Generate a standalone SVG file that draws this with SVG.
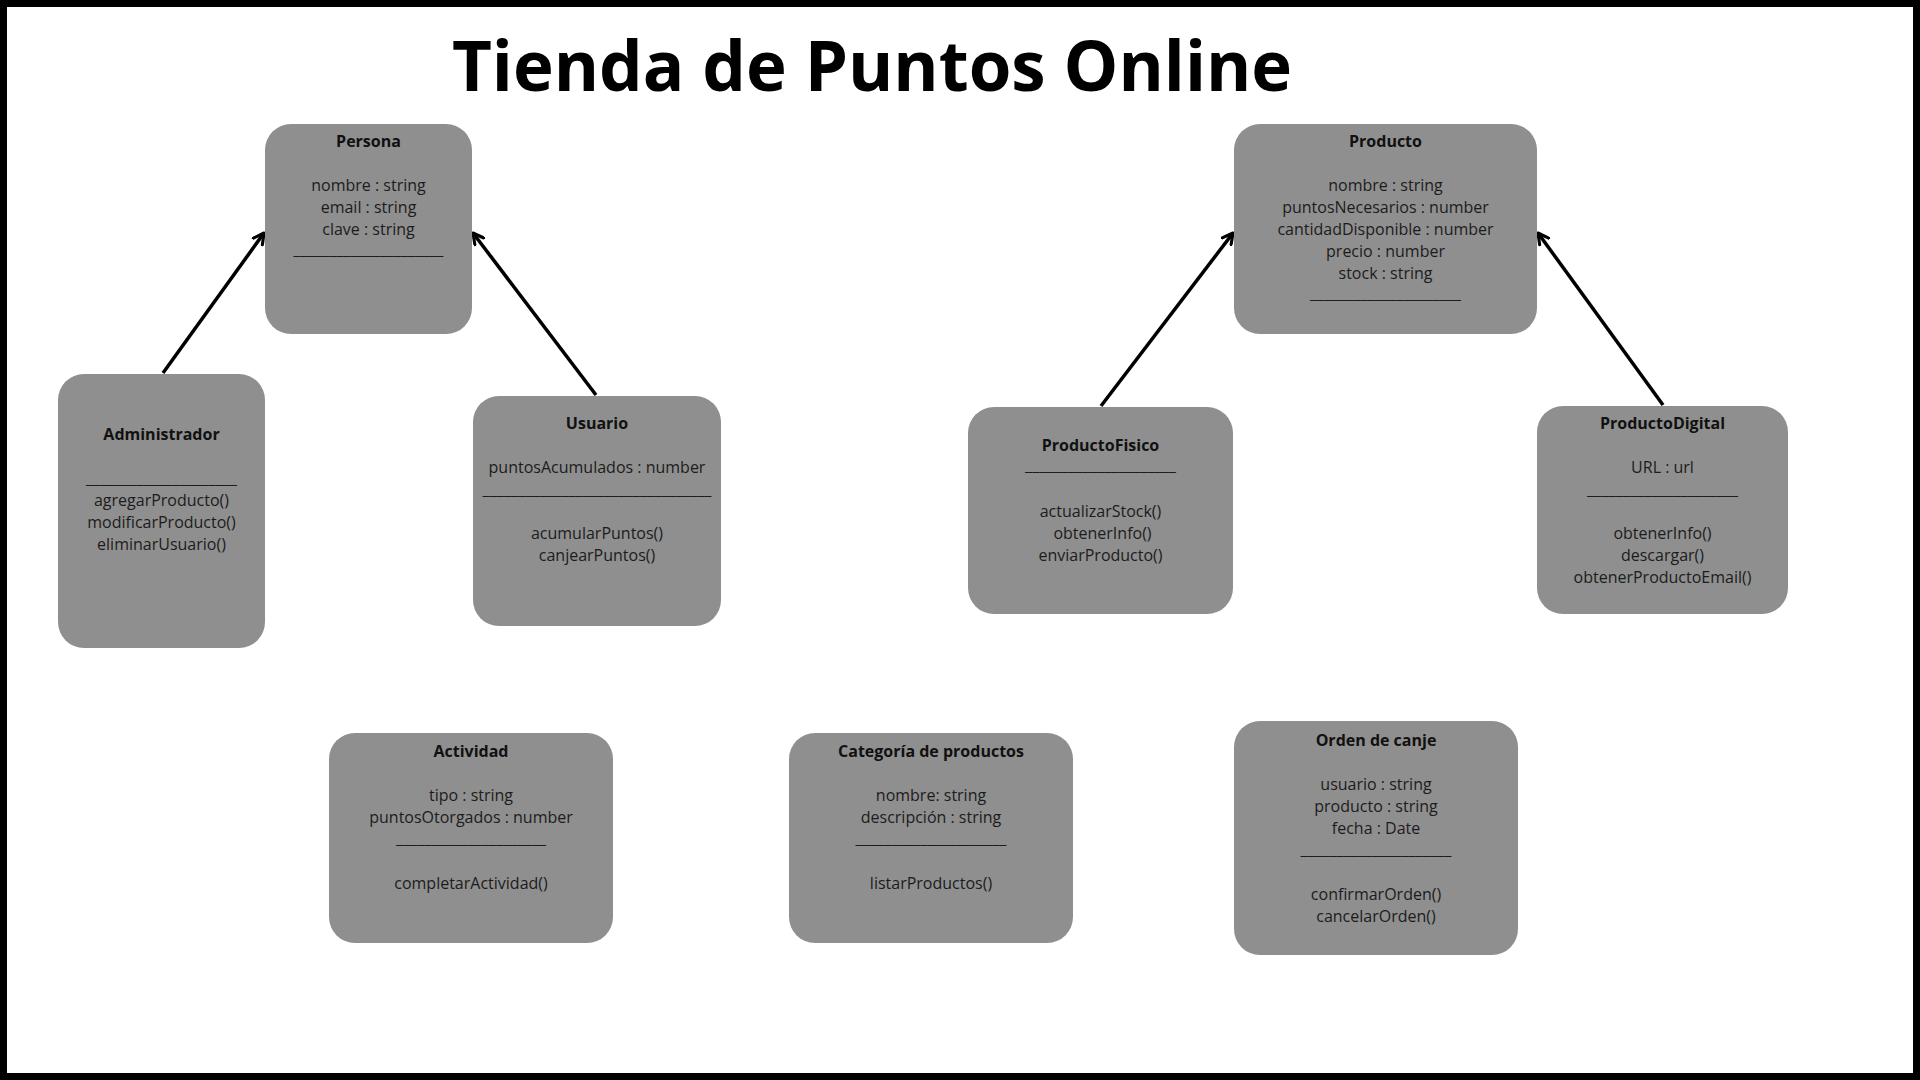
<svg xmlns="http://www.w3.org/2000/svg" width="1920" height="1080" viewBox="0 0 1920 1080">
<style>
.box{fill:#8f8f8f}
.t{font-family:"Open Sans","Liberation Sans",sans-serif;font-size:16px;fill:#1c1c1c;text-anchor:middle}
.h{font-weight:bold;fill:#111}
.title{font-family:"Open Sans","Liberation Sans",sans-serif;font-size:69px;font-weight:bold;fill:#000;text-anchor:middle}
.c{stroke:#000;stroke-width:3.5;fill:none;marker-end:url(#arr)}
</style>
<defs>
<marker id="arr" viewBox="0 0 10 10" refX="8.5" refY="5" markerWidth="4" markerHeight="4" orient="auto" markerUnits="strokeWidth">
<path d="M1,1 L8.5,5 L1,9" fill="none" stroke="#000" stroke-width="2.2" stroke-linecap="round" stroke-linejoin="round"/>
</marker>
</defs>
<rect x="0" y="0" width="1920" height="1080" fill="#fff"/>
<rect x="3.5" y="3.5" width="1913" height="1073" fill="none" stroke="#000" stroke-width="7"/>
<text class="title" x="872" y="91">Tienda de Puntos Online</text>

<g id="connectors">
<line class="c" x1="163" y1="373" x2="264" y2="233"/>
<line class="c" x1="596" y1="395" x2="473" y2="233"/>
<line class="c" x1="1101" y1="406" x2="1233" y2="233"/>
<line class="c" x1="1663" y1="405" x2="1538" y2="233"/>
</g>

<g id="persona">
<rect class="box" x="265" y="124" width="207" height="210" rx="26"/>
<text class="t h" x="368.5" y="147">Persona</text>
<text class="t" x="368.5" y="191">nombre : string</text>
<text class="t" x="368.5" y="213">email : string</text>
<text class="t" x="368.5" y="235">clave : string</text>
<text class="t" x="368.5" y="255" textLength="150" lengthAdjust="spacingAndGlyphs">_____________________</text>
</g>

<g id="administrador">
<rect class="box" x="58" y="374" width="207" height="274" rx="26"/>
<text class="t h" x="161.5" y="440">Administrador</text>
<text class="t" x="161.5" y="484" textLength="151" lengthAdjust="spacingAndGlyphs">_____________________</text>
<text class="t" x="161.5" y="506">agregarProducto()</text>
<text class="t" x="161.5" y="528">modificarProducto()</text>
<text class="t" x="161.5" y="550">eliminarUsuario()</text>
</g>

<g id="usuario">
<rect class="box" x="473" y="396" width="248" height="230" rx="26"/>
<text class="t h" x="597" y="429">Usuario</text>
<text class="t" x="597" y="473">puntosAcumulados : number</text>
<text class="t" x="597" y="495" textLength="229" lengthAdjust="spacingAndGlyphs">________________________________</text>
<text class="t" x="597" y="539">acumularPuntos()</text>
<text class="t" x="597" y="561">canjearPuntos()</text>
</g>

<g id="producto">
<rect class="box" x="1234" y="124" width="303" height="210" rx="26"/>
<text class="t h" x="1385.5" y="147">Producto</text>
<text class="t" x="1385.5" y="191">nombre : string</text>
<text class="t" x="1385.5" y="213">puntosNecesarios : number</text>
<text class="t" x="1385.5" y="235">cantidadDisponible : number</text>
<text class="t" x="1385.5" y="257">precio : number</text>
<text class="t" x="1385.5" y="279">stock : string</text>
<text class="t" x="1385.5" y="299" textLength="151" lengthAdjust="spacingAndGlyphs">_____________________</text>
</g>

<g id="productofisico">
<rect class="box" x="968" y="407" width="265" height="207" rx="26"/>
<text class="t h" x="1100.5" y="451">ProductoFisico</text>
<text class="t" x="1100.5" y="471" textLength="151" lengthAdjust="spacingAndGlyphs">_____________________</text>
<text class="t" x="1100.5" y="517">actualizarStock()</text>
<text class="t" x="1102.5" y="539">obtenerInfo()</text>
<text class="t" x="1100.5" y="561">enviarProducto()</text>
</g>

<g id="productodigital">
<rect class="box" x="1537" y="406" width="251" height="208" rx="26"/>
<text class="t h" x="1662.5" y="429">ProductoDigital</text>
<text class="t" x="1662.5" y="473">URL : url</text>
<text class="t" x="1662.5" y="495" textLength="151" lengthAdjust="spacingAndGlyphs">_____________________</text>
<text class="t" x="1662.5" y="539">obtenerInfo()</text>
<text class="t" x="1662.5" y="561">descargar()</text>
<text class="t" x="1662.5" y="583">obtenerProductoEmail()</text>
</g>

<g id="actividad">
<rect class="box" x="329" y="733" width="284" height="210" rx="26"/>
<text class="t h" x="471" y="757">Actividad</text>
<text class="t" x="471" y="801">tipo : string</text>
<text class="t" x="471" y="823">puntosOtorgados : number</text>
<text class="t" x="471" y="844" textLength="150" lengthAdjust="spacingAndGlyphs">_____________________</text>
<text class="t" x="471" y="889">completarActividad()</text>
</g>

<g id="categoria">
<rect class="box" x="789" y="733" width="284" height="210" rx="26"/>
<text class="t h" x="931" y="757">Categoría de productos</text>
<text class="t" x="931" y="801">nombre: string</text>
<text class="t" x="931" y="823">descripción : string</text>
<text class="t" x="931" y="844" textLength="151" lengthAdjust="spacingAndGlyphs">_____________________</text>
<text class="t" x="931" y="889">listarProductos()</text>
</g>

<g id="orden">
<rect class="box" x="1234" y="721" width="284" height="234" rx="26"/>
<text class="t h" x="1376" y="746">Orden de canje</text>
<text class="t" x="1376" y="790">usuario : string</text>
<text class="t" x="1376" y="812">producto : string</text>
<text class="t" x="1376" y="834">fecha : Date</text>
<text class="t" x="1376" y="855" textLength="151" lengthAdjust="spacingAndGlyphs">_____________________</text>
<text class="t" x="1376" y="900">confirmarOrden()</text>
<text class="t" x="1376" y="922">cancelarOrden()</text>
</g>
</svg>
